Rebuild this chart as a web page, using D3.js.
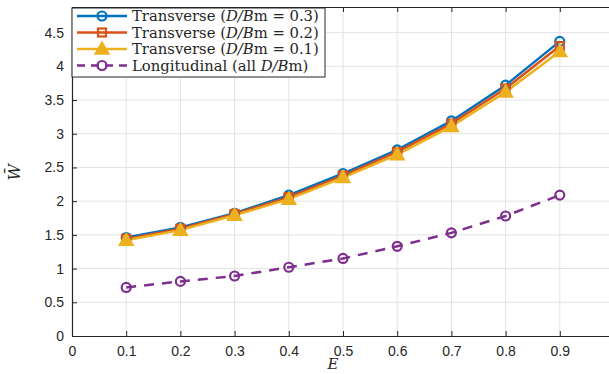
<!DOCTYPE html>
<html>
<head>
<meta charset="utf-8">
<script src="https://cdn.jsdelivr.net/npm/d3@7"></script>
<style>
  body { margin: 0; background: #fff; }
  svg { display: block; }
  .tick text { font-family: "Liberation Sans", Arial, sans-serif; font-size: 14px; fill: #262626; }
</style>
</head>
<body>
<svg id="chart"></svg>
<script>
const eValues = [0.1, 0.2, 0.3, 0.4, 0.5, 0.6, 0.7, 0.8, 0.9];
const trans03 = [1.46, 1.61, 1.82, 2.09, 2.41, 2.76, 3.19, 3.72, 4.37];
const trans02 = [1.44, 1.59, 1.81, 2.06, 2.38, 2.73, 3.15, 3.67, 4.30];
const trans01 = [1.42, 1.57, 1.79, 2.03, 2.35, 2.69, 3.11, 3.62, 4.22];
const longit  = [0.72, 0.81, 0.89, 1.02, 1.15, 1.33, 1.53, 1.78, 2.09];
const xTicks = [0, 0.1, 0.2, 0.3, 0.4, 0.5, 0.6, 0.7, 0.8, 0.9, 1];
const yTicks = [0, 0.5, 1, 1.5, 2, 2.5, 3, 3.5, 4, 4.5];

const series = [
  { name: "0.3", values: trans03, color: "#0072BD", marker: "circle", dash: null },
  { name: "0.2", values: trans02, color: "#D95319", marker: "square", dash: null },
  { name: "0.1", values: trans01, color: "#EDB120", marker: "triangle", dash: null },
  { name: "long", values: longit, color: "#7E2F8E", marker: "circle", dash: "10,8" }
];

const width = 609, height = 374;
const margin = { top: 7, right: -5, bottom: 38, left: 72 };
const w = width - margin.left - margin.right;
const h = height - margin.top - margin.bottom;

const svg = d3.select("#chart").attr("width", width).attr("height", height);
const g = svg.append("g").attr("transform", `translate(${margin.left},${margin.top})`);

const x = d3.scaleLinear().domain([0, 1]).range([0, w]);
const y = d3.scaleLinear().domain([0, 4.88]).range([h, 0]);

// grid
g.append("g").selectAll("line").data(xTicks.slice(1)).enter().append("line")
  .attr("x1", d => x(d)).attr("x2", d => x(d)).attr("y1", 0).attr("y2", h)
  .attr("stroke", "#e3e3e3").attr("stroke-width", 1);
g.append("g").selectAll("line").data(yTicks.slice(1)).enter().append("line")
  .attr("x1", 0).attr("x2", w).attr("y1", d => y(d)).attr("y2", d => y(d))
  .attr("stroke", "#e3e3e3").attr("stroke-width", 1);

// axes (ticks inside, like MATLAB); the last x label falls outside the frame
const xAxis = g.append("g").attr("transform", `translate(0,${h})`)
  .call(d3.axisBottom(x).tickValues(xTicks).tickFormat(d => d < 1 ? d3.format("")(d) : "")
    .tickSizeInner(-5).tickSizeOuter(0).tickPadding(10));
const yAxis = g.append("g")
  .call(d3.axisLeft(y).tickValues(yTicks).tickFormat(d3.format("")).tickSizeInner(-5).tickSizeOuter(0).tickPadding(8));
const xTop = g.append("g")
  .call(d3.axisTop(x).tickValues(xTicks).tickFormat("").tickSizeInner(-5).tickSizeOuter(0));
[xAxis, yAxis, xTop].forEach(a => {
  a.select("path").attr("stroke", "#262626").attr("stroke-width", 1.2);
  a.selectAll("line").attr("stroke", "#262626");
});

// lines
const line = d3.line().x((d, i) => x(eValues[i])).y(d => y(d));
series.forEach(s => {
  g.append("path").datum(s.values)
    .attr("fill", "none").attr("stroke", s.color).attr("stroke-width", 2.5)
    .attr("stroke-dasharray", s.dash)
    .attr("d", line);
});

function drawMarker(sel, type, color, cx, cy) {
  if (type === "circle") {
    sel.append("circle").attr("cx", cx).attr("cy", cy).attr("r", 4.5)
      .attr("fill", "none").attr("stroke", color).attr("stroke-width", 2.2);
  } else if (type === "square") {
    sel.append("rect").attr("x", cx - 4).attr("y", cy - 4).attr("width", 8).attr("height", 8)
      .attr("fill", "none").attr("stroke", color).attr("stroke-width", 2.2);
  } else {
    sel.append("path")
      .attr("d", d3.symbol().type(d3.symbolTriangle).size(75)())
      .attr("transform", `translate(${cx},${cy + 1})`)
      .attr("fill", color).attr("stroke", color).attr("stroke-width", 2);
  }
}

series.forEach(s => {
  const mg = g.append("g");
  s.values.forEach((v, i) => drawMarker(mg, s.marker, s.color, x(eValues[i]), y(v)));
});

// axis labels
svg.append("text").attr("x", margin.left + x(0.5) - 10).attr("y", 369)
  .attr("text-anchor", "middle")
  .style("font-family", "'DejaVu Serif', 'Liberation Serif', serif")
  .style("font-style", "italic").style("font-size", "15px").attr("fill", "#262626")
  .text("E");
svg.append("text").attr("transform", `translate(20,${margin.top + y(2.43)}) rotate(-90)`)
  .attr("text-anchor", "middle")
  .style("font-family", "'DejaVu Serif', 'Liberation Serif', serif")
  .style("font-style", "italic").style("font-size", "16px").attr("fill", "#262626")
  .text("W\u0304");

// legend
const lg = svg.append("g").attr("transform", "translate(72,8)");
lg.append("rect").attr("x", 0).attr("y", 0).attr("width", 253).attr("height", 69)
  .attr("fill", "#fff").attr("stroke", "#262626").attr("stroke-width", 1);
const labels = [
  ["Transverse (", "D/B", "m = 0.3)"],
  ["Transverse (", "D/B", "m = 0.2)"],
  ["Transverse (", "D/B", "m = 0.1)"],
  ["Longitudinal (all ", "D/B", "m)"]
];
series.forEach((s, i) => {
  const ry = 8 + i * 16.5;
  lg.append("line").attr("x1", 5).attr("x2", 55).attr("y1", ry).attr("y2", ry)
    .attr("stroke", s.color).attr("stroke-width", 2.5).attr("stroke-dasharray", s.dash ? "8,6" : null);
  drawMarker(lg, s.marker, s.color, 30, ry);
  const t = lg.append("text").attr("x", 60).attr("y", ry + 5)
    .style("font-family", "'DejaVu Serif', 'Liberation Serif', serif")
    .style("font-size", "14.8px").attr("fill", "#262626");
  t.append("tspan").text(labels[i][0]);
  t.append("tspan").style("font-style", "italic").text(labels[i][1]);
  t.append("tspan").text(labels[i][2]);
});
</script>
</body>
</html>
